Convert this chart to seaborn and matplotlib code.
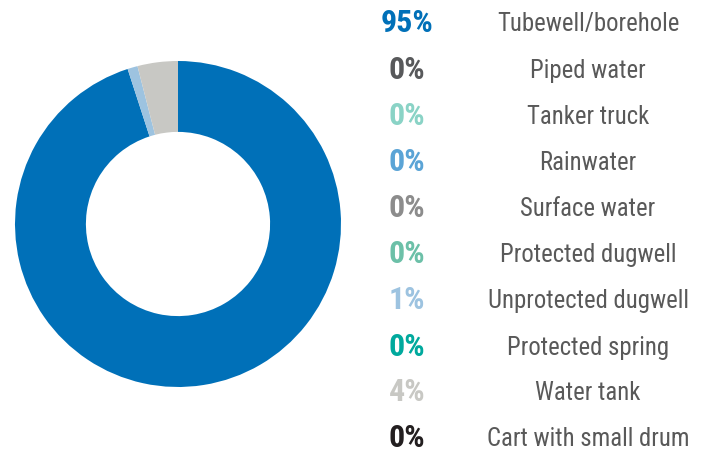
import matplotlib
matplotlib.use("Agg")
import matplotlib.pyplot as plt
import seaborn as sns

categories = ["Tubewell/borehole", "Piped water", "Tanker truck", "Rainwater",
              "Surface water", "Protected dugwell", "Unprotected dugwell",
              "Protected spring", "Water tank", "Cart with small drum"]
values = [95, 0, 0, 0, 0, 0, 1, 0, 4, 0]
pct_labels = ["95%", "0%", "0%", "0%", "0%", "0%", "1%", "0%", "4%", "0%"]
colors = ["#0070B8", "#58595B", "#8AD3C6", "#5BA4D6", "#8C8C8C",
          "#6CC0A8", "#9DC3E0", "#00A99D", "#C8C8C4", "#231F20"]

sns.set_theme(style="white")
fams = ["Roboto Condensed", "Liberation Sans", "DejaVu Sans"]
plt.rcParams["font.family"] = fams

W, H = 704, 452
fig = plt.figure(figsize=(W / 100, H / 100), dpi=100)
fig.patch.set_facecolor("white")

pal = sns.color_palette(colors)
ax = fig.add_axes([15 / W, (H - 388) / H, 326 / W, 326 / H])
ax.pie(values, colors=pal, startangle=90, counterclock=False, radius=1,
       wedgeprops=dict(width=0.435, edgecolor="none", linewidth=0))
ax.set_xlim(-1, 1)
ax.set_ylim(-1, 1)
ax.set_aspect("equal")
ax.axis("off")

ys = [23, 70, 116, 162, 208, 254, 300, 347, 392, 438]
for y, p, c, lab in zip(ys, pct_labels, colors, categories):
    fig.text(407 / W, 1 - y / H, p, color=c, fontsize=23, fontweight="bold",
             ha="center", va="center", family=fams)
    fig.text(588 / W, 1 - (y + 1) / H, lab, color="#595959", fontsize=17.8,
             ha="center", va="center", family=fams)

fig.savefig("out.png", dpi=100)
